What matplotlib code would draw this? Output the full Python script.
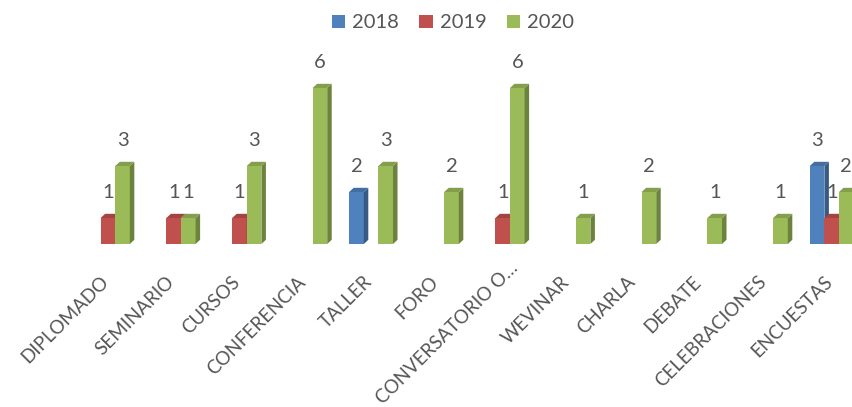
import matplotlib
matplotlib.use("Agg")
import matplotlib.pyplot as plt
import matplotlib.transforms as mtransforms
from matplotlib.patches import Polygon, Patch
import numpy as np

categories = ["DIPLOMADO", "SEMINARIO", "CURSOS", "CONFERENCIA", "TALLER", "FORO",
              "CONVERSATORIO O\u2026", "WEVINAR", "CHARLA", "DEBATE", "CELEBRACIONES", "ENCUESTAS"]
series_names = ["2018", "2019", "2020"]
v2018 = [0, 0, 0, 0, 2, 0, 0, 0, 0, 0, 0, 3]
v2019 = [1, 1, 1, 0, 0, 0, 1, 0, 0, 0, 0, 1]
v2020 = [3, 1, 3, 6, 3, 2, 6, 1, 2, 1, 1, 2]

front_colors = ["#4F81BD", "#C0504D", "#9BBB59"]
text_color = "#555555"

plt.rcParams['font.family'] = ['Lato', 'DejaVu Sans']

W, H = 853, 407
fig = plt.figure(figsize=(W / 100, H / 100), dpi=100)
left_px, base_px, unit_px, step_px = 75, 244, 26.0, 65.8
ymax = 7
ax = fig.add_axes([left_px / W, (H - base_px) / H, 12 * step_px / W, ymax * unit_px / H])
ax.set_xlim(-0.5, 11.5)
ax.set_ylim(0, ymax)
for s in ax.spines.values():
    s.set_visible(False)
ax.set_yticks([])

def shade(c, f):
    rgb = np.array(matplotlib.colors.to_rgb(c))
    return tuple(rgb * f)

bw = 0.222
dx = 4.5 / step_px
dy = 4.2 / unit_px
x = np.arange(len(categories))
series = [v2018, v2019, v2020]
for i, vals in enumerate(series):
    off = (i - 1) * bw
    fc = front_colors[i]
    for xi, v in zip(x, vals):
        if v == 0:
            continue
        x0 = xi + off - bw / 2
        x1 = x0 + bw
        ax.bar(xi + off, v, width=bw, color=fc, linewidth=0, zorder=3 + i)
        side = Polygon([(x1, 0), (x1 + dx, dy), (x1 + dx, v + dy), (x1, v)],
                       closed=True, facecolor=shade(fc, 0.7), edgecolor='none', zorder=3 + i)
        top = Polygon([(x0, v), (x0 + dx, v + dy), (x1 + dx, v + dy), (x1, v)],
                      closed=True, facecolor=shade(fc, 0.85), edgecolor='none', zorder=3 + i)
        ax.add_patch(side)
        ax.add_patch(top)
        ax.annotate(str(v), (xi + off, v), xytext=(0, 18), textcoords='offset points',
                    ha='center', va='center', fontsize=14.5, color=text_color, zorder=10)

ax.set_xticks(x)
ax.set_xticklabels(categories, rotation=45, ha='right', va='top', rotation_mode='anchor',
                   fontsize=13.5, color=text_color)
ax.tick_params(axis='x', length=0, pad=21)
for lab in ax.get_xticklabels():
    # truncated (ellipsis) label sits further up along its diagonal, as in the reference
    shift = 14 if lab.get_text().endswith("\u2026") else 0
    offset = mtransforms.ScaledTranslation((-8 + shift) / 100, shift / 100, fig.dpi_scale_trans)
    lab.set_transform(lab.get_transform() + offset)

handles = [Patch(facecolor=c, edgecolor='none') for c in front_colors]
fig.legend(handles, series_names, loc='center', bbox_to_anchor=(453 / W, 1 - 23 / H),
           ncol=3, frameon=False, fontsize=14.5, labelcolor=text_color,
           handlelength=0.65, handleheight=0.65, handletextpad=0.35, columnspacing=1.0)

fig.savefig("out.png", dpi=100)
